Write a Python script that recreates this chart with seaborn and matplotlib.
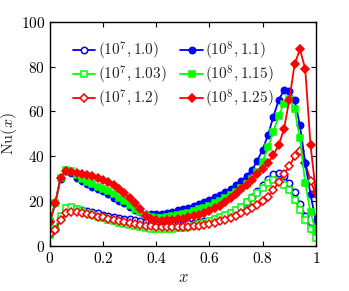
import matplotlib
matplotlib.use('Agg')
import matplotlib.pyplot as plt
import numpy as np
import pandas as pd
import seaborn as sns

# x positions along the wall
x = np.round(np.arange(0, 51) * 0.02, 2)

nu_1e7_100 = [5.5, 7.5, 13.0, 16.0, 16.8, 16.5, 16.0, 15.5, 15.0, 14.5,
              14.0, 13.5, 13.0, 12.6, 12.2, 11.8, 11.4, 11.0, 10.6, 10.2,
              9.9, 9.7, 9.6, 9.6, 9.7, 9.8, 10.0, 10.3, 10.6, 10.9,
              11.2, 11.8, 12.5, 13.4, 14.5, 15.8, 17.5, 19.5, 21.8, 24.3,
              27.0, 29.8, 32.0, 32.6, 31.0, 28.0, 24.0, 18.8, 13.5, 8.0, 6.0]
nu_1e7_103 = [5.0, 7.5, 13.5, 16.8, 17.4, 16.6, 15.6, 14.7, 13.9, 13.0,
              12.3, 11.6, 11.0, 10.4, 9.9, 9.4, 8.8, 8.3, 7.9, 7.7,
              7.6, 7.6, 7.6, 7.7, 7.9, 8.2, 8.6, 9.1, 9.7, 10.4,
              11.2, 12.0, 12.8, 13.7, 14.8, 16.0, 17.4, 19.4, 21.5, 23.6,
              25.8, 28.0, 29.3, 29.0, 27.2, 25.0, 20.5, 16.0, 11.5, 7.5, 3.7]
nu_1e7_120 = [5.2, 6.9, 11.5, 14.5, 15.3, 15.0, 14.5, 14.1, 13.6, 13.1,
              12.7, 12.2, 11.7, 11.2, 10.7, 10.3, 9.9, 9.5, 9.1, 8.8,
              8.6, 8.4, 8.3, 8.3, 8.3, 8.4, 8.5, 8.7, 9.0, 9.4,
              9.8, 10.3, 10.9, 11.6, 12.5, 13.5, 14.5, 15.6, 16.8, 18.2,
              20.0, 22.0, 24.8, 28.5, 32.0, 35.5, 40.0, 42.5, 37.0, 29.0, 23.0]
nu_1e8_110 = [11.0, 19.0, 30.0, 33.5, 32.5, 30.5, 29.0, 27.5, 26.5, 25.5,
              24.5, 23.0, 21.5, 20.2, 19.0, 17.5, 16.0, 15.0, 14.4, 14.1,
              14.1, 14.4, 14.8, 15.3, 15.8, 16.3, 17.0, 17.8, 18.6, 19.5,
              20.5, 21.6, 22.8, 24.0, 25.5, 27.0, 29.0, 31.3, 34.0, 38.0,
              43.0, 49.5, 57.5, 65.0, 69.5, 69.0, 65.0, 54.0, 37.0, 23.0, 11.0]
nu_1e8_115 = [11.0, 19.0, 30.5, 34.0, 33.5, 31.5, 30.0, 28.5, 27.5, 26.5,
              25.5, 24.3, 23.0, 21.5, 20.0, 18.2, 16.5, 15.0, 13.7, 12.8,
              12.5, 12.6, 12.9, 13.3, 13.8, 14.3, 14.9, 15.6, 16.3, 17.1,
              18.0, 19.0, 20.0, 21.2, 22.5, 24.0, 25.7, 27.6, 29.8, 33.0,
              37.5, 44.0, 51.0, 58.0, 63.5, 65.5, 61.0, 48.0, 28.0, 15.0, 7.0]
nu_1e8_125 = [10.6, 19.0, 30.5, 33.5, 33.0, 32.5, 32.0, 31.5, 31.0, 30.3,
              29.5, 28.5, 27.0, 25.5, 23.5, 21.3, 19.0, 16.3, 13.5, 12.0,
              11.4, 11.3, 11.4, 11.6, 11.9, 12.2, 12.7, 13.3, 14.0, 14.8,
              15.7, 16.8, 18.0, 19.5, 21.3, 23.2, 25.2, 27.3, 29.5, 32.0,
              34.5, 37.0, 40.5, 45.0, 52.0, 65.0, 81.0, 87.8, 79.0, 45.0, 24.0]

labels = [r'$(10^7, 1.0)$', r'$(10^7, 1.03)$', r'$(10^7, 1.2)$',
          r'$(10^8, 1.1)$', r'$(10^8, 1.15)$', r'$(10^8, 1.25)$']
series = [nu_1e7_100, nu_1e7_103, nu_1e7_120, nu_1e8_110, nu_1e8_115, nu_1e8_125]
colors = ['#0000ff', '#00ff00', '#ff0000', '#0000ff', '#00ff00', '#ff0000']
markers = ['o', 's', 'D', 'o', 's', 'D']
filled = [False, False, False, True, True, True]

sns.set_style('ticks')
plt.rcParams['font.family'] = ['DejaVu Serif']
plt.rcParams['mathtext.fontset'] = 'cm'

fig = plt.figure(figsize=(3.49, 2.91), dpi=100)
ax = fig.add_axes([0.143, 0.155, 0.762, 0.77])

for vals, lab, col, mk, fl in zip(series, labels, colors, markers, filled):
    df = pd.DataFrame({'x': x, 'Nu': vals})
    ms = 4.6 if mk != 'D' else 4.2
    sns.lineplot(data=df, x='x', y='Nu', ax=ax, color=col, linewidth=1.3,
                 marker=mk, markersize=ms, markeredgecolor=col,
                 markerfacecolor=col if fl else 'white', markeredgewidth=1.1,
                 label=lab)

ax.set_xlim(0, 1)
ax.set_ylim(0, 100)
xt = [0, 0.2, 0.4, 0.6, 0.8, 1]
yt = [0, 20, 40, 60, 80, 100]
ax.set_xticks(xt)
ax.set_yticks(yt)
ax.set_xticklabels(['$%g$' % v for v in xt])
ax.set_yticklabels(['$%g$' % v for v in yt])
ax.tick_params(direction='in', top=True, right=True, labelsize=11, length=3.5,
               width=0.8, colors='black')
for sp in ax.spines.values():
    sp.set_linewidth(1.0)
    sp.set_color('black')
ax.set_xlabel(r'$x$', fontsize=12, labelpad=2)
ax.set_ylabel(r'$\mathrm{Nu}(x)$', fontsize=11.5, labelpad=1)

ax.legend(loc='upper left', bbox_to_anchor=(0.085, 0.92), ncol=2, frameon=False,
          fontsize=11, handlelength=1.5, handletextpad=0.15, columnspacing=0.9,
          labelspacing=0.12, borderpad=0, borderaxespad=0)

fig.savefig('out.png', dpi=100)
